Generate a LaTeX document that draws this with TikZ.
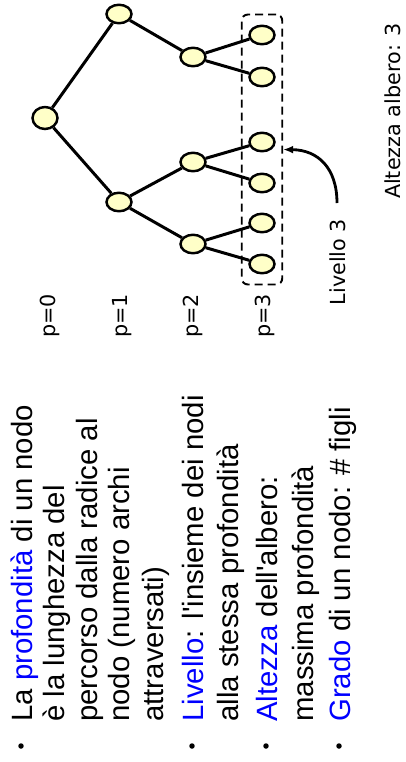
\documentclass[tikz,border=0pt]{standalone}
\usepackage{fontspec}
\setmainfont{Liberation Sans}[Ligatures=TeXOff]
\newfontfamily\treefont{DejaVu Sans}
\usepackage{xcolor}
\usetikzlibrary{arrows.meta,positioning,fit,calc,shapes.geometric,backgrounds}
\definecolor{nodefill}{RGB}{255,255,200}

\begin{document}
\begin{tikzpicture}[x=0.02cm, y=-0.02cm,
    tnode/.style={draw, ellipse, line width=1.4pt, fill=nodefill,
      minimum width=0.5cm, minimum height=0.37cm, inner sep=0pt},
    edge/.style={line width=1.7pt},
    bline/.style={rotate=90, anchor=base west, inner sep=0pt,
      font=\fontsize{16.7}{19}\selectfont},
    tlabel/.style={rotate=90, inner sep=0pt, font=\treefont\fontsize{11.8}{13}\selectfont}]
  \useasboundingbox (0,0) rectangle (406,762);
  % ---- tree ----
  \node[tnode, minimum height=0.44cm] (r) at (45,118) {};
  \node[tnode] (a) at (119,14) {};
  \node[tnode] (b) at (119,202) {};
  \node[tnode] (a1) at (193,57) {};
  \node[tnode] (b1) at (193,162) {};
  \node[tnode] (b2) at (193,244) {};
  \node[tnode] (a11) at (262,35) {};
  \node[tnode] (a12) at (262,77) {};
  \node[tnode] (b11) at (262,142) {};
  \node[tnode] (b12) at (262,183) {};
  \node[tnode] (b21) at (262,223) {};
  \node[tnode] (b22) at (262,264) {};
  \begin{scope}[on background layer]
    \foreach \u/\v in {r/a, r/b, a/a1, b/b1, b/b2, a1/a11, a1/a12,
                       b1/b11, b1/b12, b2/b21, b2/b22}
      \draw[edge] (\u) -- (\v);
  \end{scope}
  % level box
  \node[draw, dash pattern=on 0.16cm off 0.1cm, line width=1.1pt,
    rounded corners=0.12cm, fit=(a11)(b22), inner xsep=0.13cm,
    inner ysep=0.2cm] (lev) {};
  % ---- depth labels ----
  \node[tlabel] (p0) at (50,316) {p=0};
  \node[tlabel] (p1) at (122,316) {p=1};
  \node[tlabel] (p2) at (193,316) {p=2};
  \node[tlabel] (p3) at (265,316) {p=3};
  \node[tlabel] (liv) at (338,262) {Livello 3};
  \draw[line width=1.6pt, -{Latex[length=0.2cm,width=0.16cm]}]
    (337,203) .. controls (337,168) and (318,150) .. (lev.east);
  \node[tlabel] (alt) at (393,111) {Altezza albero: 3};
  % ---- bullets ----
  \foreach \x in {32,203,277,350}
    \fill ($(\x,746)+(-11,0)$) circle (0.055cm);
  \node[bline] (l1) at (32,722) {La \textcolor{blue}{profondità} di un nodo};
  \node[bline] (l2) at (65,722) {è la lunghezza del};
  \node[bline] (l3) at (97,722) {percorso dalla radice al};
  \node[bline] (l4) at (130,722) {nodo (numero archi};
  \node[bline] (l5) at (163,722) {attraversati)};
  \node[bline] (l6) at (203,722) {\textcolor{blue}{Livello}: l'insieme dei nodi};
  \node[bline] (l7) at (238,722) {alla stessa profondità};
  \node[bline] (l8) at (277,722) {\textcolor{blue}{Altezza} dell'albero:};
  \node[bline] (l9) at (313,722) {massima profondità};
  \node[bline] (l10) at (350,722) {\textcolor{blue}{Grado} di un nodo: \# figli};
\end{tikzpicture}
\end{document}
